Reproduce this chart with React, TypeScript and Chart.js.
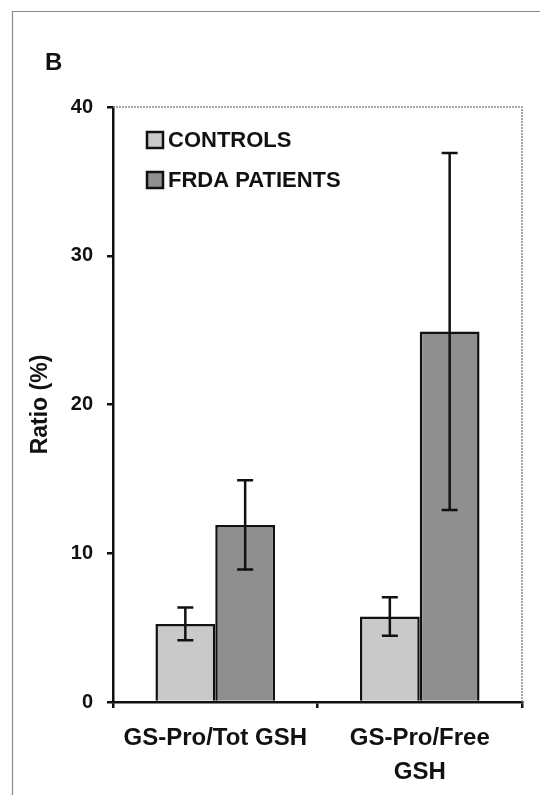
import React, { useEffect, useRef } from "react";
import { Chart, registerables } from "chart.js";

Chart.register(...registerables);

// ---- data ----
const categories: string[][] = [["GS-Pro/Tot GSH"], ["GS-Pro/Free", "GSH"]];
const seriesNames = ["CONTROLS", "FRDA PATIENTS"];
const controlsMean = [5.25, 5.75];
const controlsErr = [1.1, 1.3];
const frdaMean = [11.9, 24.9];
const frdaErr = [3.0, 12.0];
const yMin = 0;
const yMax = 40;
const yStep = 10;
const panelLetter = "B";
const yTitle = "Ratio (%)";

const FONT = "'Liberation Sans', Arial, Helvetica, sans-serif";
const LIGHT = "#c9c9c9";
const DARK = "#8f8f8f";

const errorBarPlugin = {
  id: "errorBars",
  afterDatasetsDraw(chart: any) {
    const ctx = chart.ctx;
    const ys = chart.scales.y;
    chart.data.datasets.forEach((ds: any, i: number) => {
      const meta = chart.getDatasetMeta(i);
      meta.data.forEach((bar: any, j: number) => {
        const v = ds.data[j];
        const e = ds.errors[j];
        const x = bar.x;
        const yt = ys.getPixelForValue(v + e);
        const yb = ys.getPixelForValue(v - e);
        const cap = 8;
        ctx.save();
        ctx.strokeStyle = "#111";
        ctx.lineWidth = 2.5;
        ctx.beginPath();
        ctx.moveTo(x, yt);
        ctx.lineTo(x, yb);
        ctx.moveTo(x - cap, yt);
        ctx.lineTo(x + cap, yt);
        ctx.moveTo(x - cap, yb);
        ctx.lineTo(x + cap, yb);
        ctx.stroke();
        ctx.restore();
      });
    });
  },
};

const decorPlugin = {
  id: "decor",
  beforeDraw(chart: any) {
    const ctx = chart.ctx;
    const { width, height } = chart;
    ctx.save();
    ctx.fillStyle = "#fff";
    ctx.fillRect(0, 0, width, height);
    // outer figure frame (top & left visible)
    ctx.strokeStyle = "#8a8a8a";
    ctx.lineWidth = 1.2;
    ctx.beginPath();
    ctx.moveTo(12.5, height);
    ctx.lineTo(12.5, 11.5);
    ctx.lineTo(width, 11.5);
    ctx.stroke();
    ctx.restore();
  },
  afterDraw(chart: any) {
    const ctx = chart.ctx;
    const area = chart.chartArea;
    ctx.save();
    // dotted top/right plot border
    ctx.strokeStyle = "#8a8a8a";
    ctx.lineWidth = 1.5;
    ctx.setLineDash([2, 1]);
    ctx.beginPath();
    ctx.moveTo(area.left, area.top);
    ctx.lineTo(area.right, area.top);
    ctx.lineTo(area.right, area.bottom);
    ctx.stroke();
    ctx.setLineDash([]);
    // panel letter
    ctx.fillStyle = "#111";
    ctx.font = `bold 24px ${FONT}`;
    ctx.textAlign = "left";
    ctx.textBaseline = "alphabetic";
    ctx.fillText(panelLetter, 45, 70);
    // legend
    ctx.font = `bold 22px ${FONT}`;
    ctx.textBaseline = "middle";
    chart.data.datasets.forEach((ds: any, i: number) => {
      const bx = area.left + 34;
      const by = area.top + 25 + i * 40;
      ctx.fillStyle = ds.backgroundColor;
      ctx.fillRect(bx, by, 16, 16);
      ctx.strokeStyle = "#111";
      ctx.lineWidth = 2.5;
      ctx.strokeRect(bx, by, 16, 16);
      ctx.fillStyle = "#111";
      ctx.fillText(ds.label, area.left + 55, by + 9);
    });
    ctx.restore();
  },
};

export default function App() {
  const ref = useRef<HTMLCanvasElement | null>(null);
  useEffect(() => {
    if (!ref.current) return;
    const chart = new Chart(ref.current, {
      type: "bar",
      data: {
        labels: categories as any,
        datasets: [
          {
            label: seriesNames[0],
            data: controlsMean,
            errors: controlsErr,
            backgroundColor: LIGHT,
            borderColor: "#111",
            borderWidth: 2.5,
          } as any,
          {
            label: seriesNames[1],
            data: frdaMean,
            errors: frdaErr,
            backgroundColor: DARK,
            borderColor: "#111",
            borderWidth: 2.5,
          } as any,
        ],
      },
      options: {
        animation: false,
        responsive: false,
        devicePixelRatio: 1,
        layout: { padding: { top: 107, right: 18, bottom: 0, left: 0 } },
        datasets: { bar: { categoryPercentage: 0.585, barPercentage: 1.0 } },
        plugins: {
          legend: { display: false },
          tooltip: { enabled: false },
        },
        scales: {
          x: {
            type: "category",
            offset: true,
            grid: {
              offset: true,
              drawOnChartArea: false,
              drawTicks: true,
              tickLength: 6,
              color: "#111",
              lineWidth: 2.5,
            },
            border: { display: true, color: "#111", width: 2.5 },
            ticks: {
              color: "#111",
              padding: 14,
              maxRotation: 0,
              autoSkip: false,
              font: { family: FONT, size: 24, weight: "bold", lineHeight: 1.4 },
            },
            afterFit(scale: any) {
              scale.height = 93;
            },
          },
          y: {
            min: yMin,
            max: yMax,
            ticks: {
              stepSize: yStep,
              color: "#111",
              padding: 14,
              font: { family: FONT, size: 20, weight: "bold" },
            },
            grid: {
              drawOnChartArea: false,
              drawTicks: true,
              tickLength: 6,
              color: "#111",
              lineWidth: 2.5,
            },
            border: { display: true, color: "#111", width: 2.5 },
            title: {
              display: true,
              text: yTitle,
              color: "#111",
              padding: { top: 27, bottom: 0 },
              font: { family: FONT, size: 23, weight: "bold" },
            },
            afterFit(scale: any) {
              scale.width = 113;
            },
          },
        },
      } as any,
      plugins: [errorBarPlugin, decorPlugin],
    });
    return () => chart.destroy();
  }, []);
  return (
    <div style={{ position: "absolute", left: 0, top: 0, width: 540, height: 795, background: "#fff" }}>
      <canvas ref={ref} width={540} height={795} style={{ display: "block", width: 540, height: 795 }} />
    </div>
  );
}
